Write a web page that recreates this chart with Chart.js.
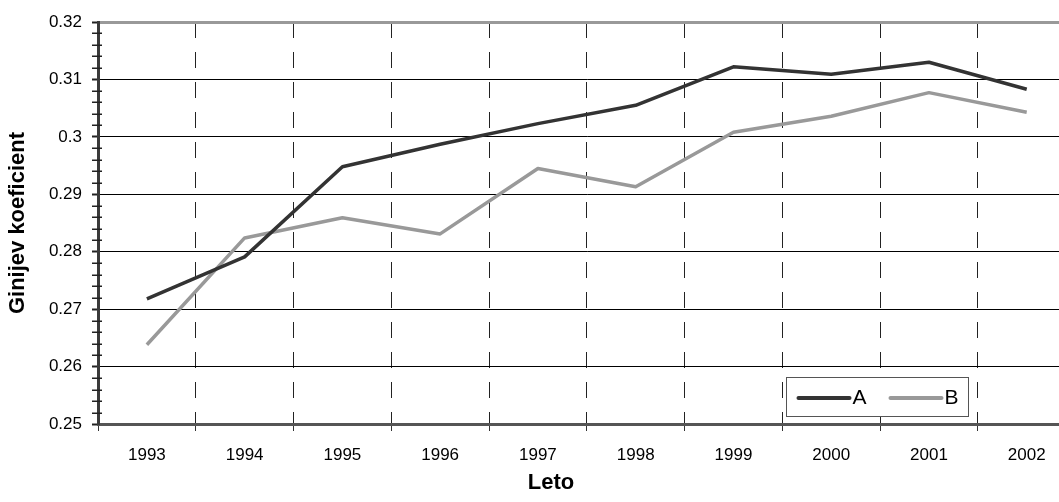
<!DOCTYPE html>
<html>
<head>
<meta charset="utf-8">
<script src="https://cdn.jsdelivr.net/npm/chart.js@4.4.0/dist/chart.umd.min.js"></script>
<style>
  html, body { margin: 0; padding: 0; background: #fff; }
  #wrap { width: 1059px; height: 502px; overflow: hidden; }
</style>
</head>
<body>
<div id="wrap"><canvas id="chart" width="1100" height="502"></canvas></div>
<script>
const years = ['1993', '1994', '1995', '1996', '1997', '1998', '1999', '2000', '2001', '2002'];
const seriesA = [0.2718, 0.2791, 0.2948, 0.2987, 0.3023, 0.3055, 0.3122, 0.3109, 0.3130, 0.3083];
const seriesB = [0.2638, 0.2824, 0.2859, 0.2831, 0.2945, 0.2913, 0.3008, 0.3036, 0.3077, 0.3043];
const yTickValues = [0.25, 0.26, 0.27, 0.28, 0.29, 0.30, 0.31, 0.32];
const yTickLabels = ['0.25', '0.26', '0.27', '0.28', '0.29', '0.3', '0.31', '0.32'];
const xTitle = 'Leto';
const yTitle = 'Ginijev koeficient';

const font = '"Liberation Sans", Arial, sans-serif';

// minor ticks on the value axis, every 0.002
const minorTicks = {
    id: 'minorTicks',
    afterDraw(chart) {
        const y = chart.scales.y;
        const ctx = chart.ctx;
        const x0 = chart.chartArea.left;
        ctx.save();
        ctx.strokeStyle = '#222';
        ctx.lineWidth = 1.5;
        for (let i = 0; i <= 35; i++) {
            if (i % 5 === 0) continue;
            const py = Math.round(y.getPixelForValue(0.25 + i * 0.002)) + 0.25;
            ctx.beginPath();
            ctx.moveTo(x0 - 6, py);
            ctx.lineTo(x0 + 4, py);
            ctx.stroke();
        }
        ctx.restore();
    }
};

// category axis title, centred on the visible picture rather than the (cropped) plot
const xAxisTitle = {
    id: 'xAxisTitle',
    afterDraw(chart) {
        const ctx = chart.ctx;
        ctx.save();
        ctx.font = 'bold 22px ' + font;
        ctx.fillStyle = '#000';
        ctx.textAlign = 'center';
        ctx.textBaseline = 'middle';
        ctx.fillText(xTitle, 551, 483);
        ctx.restore();
    }
};

// boxed legend inside the plot, lower right
const boxLegend = {
    id: 'boxLegend',
    afterDraw(chart) {
        const ctx = chart.ctx;
        const bx = 786.5, by = 377.5, bw = 182, bh = 39;
        ctx.save();
        ctx.fillStyle = '#fff';
        ctx.fillRect(bx, by, bw, bh);
        ctx.strokeStyle = '#555';
        ctx.lineWidth = 1;
        ctx.strokeRect(bx, by, bw, bh);
        ctx.font = '21px ' + font;
        ctx.textBaseline = 'middle';
        ctx.fillStyle = '#000';
        const cy = by + bh / 2 + 1;
        let x = bx + 12;
        chart.data.datasets.forEach(ds => {
            ctx.strokeStyle = ds.borderColor;
            ctx.lineWidth = 4;
            ctx.lineCap = 'round';
            ctx.beginPath();
            ctx.moveTo(x, cy);
            ctx.lineTo(x + 51, cy);
            ctx.stroke();
            ctx.fillText(ds.label, x + 54, cy);
            x += 92;
        });
        ctx.restore();
    }
};

const ctx = document.getElementById('chart').getContext('2d');
const chart = new Chart(ctx, {
    type: 'line',
    data: {
        labels: years,
        datasets: [{
            label: 'A',
            data: seriesA,
            borderColor: '#333333',
            borderWidth: 3.5,
            pointRadius: 0,
            tension: 0,
            borderJoinStyle: 'round'
        }, {
            label: 'B',
            data: seriesB,
            borderColor: '#999999',
            borderWidth: 3.5,
            pointRadius: 0,
            tension: 0,
            borderJoinStyle: 'round'
        }]
    },
    options: {
        responsive: false,
        animation: false,
        devicePixelRatio: 1,
        layout: { padding: { top: 22, right: 24.4, left: 0, bottom: 0 } },
        plugins: {
            legend: { display: false },
            tooltip: { enabled: false }
        },
        scales: {
            x: {
                type: 'category',
                offset: true,
                afterFit(scale) { scale.height = 78; },
                grid: {
                    offset: true,
                    color: '#222',
                    lineWidth: 1,
                    tickLength: 7,
                    tickColor: '#333',
                    tickWidth: 1
                },
                border: { color: '#555', width: 3, dash: [16, 14] },
                ticks: {
                    color: '#000',
                    padding: 14,
                    maxRotation: 0,
                    font: { family: font, size: 17 }
                }
            },
            y: {
                min: 0.25,
                max: 0.32,
                afterFit(scale) { scale.width = 98; },
                afterBuildTicks(scale) {
                    scale.ticks = yTickValues.map(v => ({ value: v }));
                },
                grid: {
                    color: c => c.tick && c.tick.value >= 0.3199 ? '#999' : (c.tick && c.tick.value <= 0.2501 ? 'rgba(0,0,0,0)' : '#000'),
                    lineWidth: c => c.tick && c.tick.value >= 0.3199 ? 3 : 1,
                    tickLength: 6,
                    tickColor: '#222',
                    tickWidth: 2
                },
                border: { color: '#3a3a3a', width: 3 },
                ticks: {
                    color: '#000',
                    padding: 10,
                    font: { family: font, size: 17 },
                    callback: (v, i) => yTickLabels[i]
                },
                title: {
                    display: true,
                    text: yTitle,
                    color: '#000',
                    padding: { top: 5, bottom: 0 },
                    font: { family: font, size: 22, weight: 'bold' }
                }
            }
        }
    },
    plugins: [minorTicks, xAxisTitle, boxLegend]
});
</script>
</body>
</html>
